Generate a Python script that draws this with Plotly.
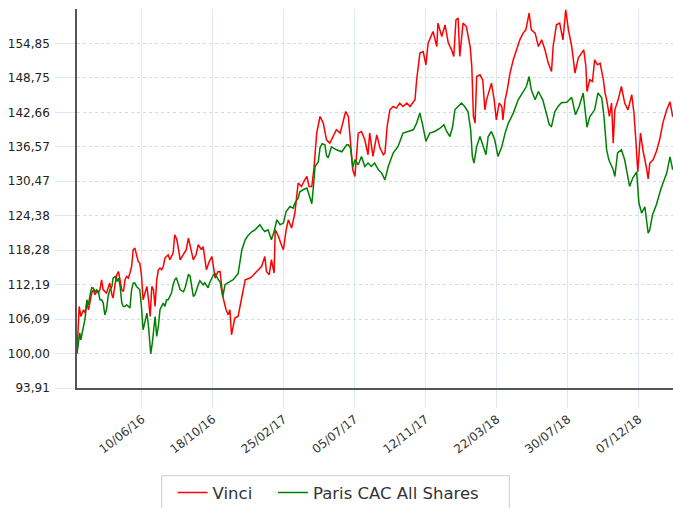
import pandas as pd
import plotly.graph_objects as go

START = "2016-02-12"

# Vinci (rebased to 100) - day offsets from START and values
vinci_days = [0, 4, 7, 12, 15, 18, 21, 24, 27, 30, 33, 36, 39, 42, 45, 48, 51, 54, 57, 60,
              64, 66, 70, 73, 76, 79, 82, 85, 88, 91, 94, 97, 100, 103, 106, 109, 112, 115, 118, 121,
              124, 128, 131, 134, 137, 140, 143, 146, 149, 152, 155, 158, 161, 164, 167, 170, 173, 176, 179, 183,
              189, 194, 200, 204, 209, 213, 218, 222, 228, 231, 237, 242, 247, 253, 258, 262, 267, 273, 277, 280,
              283, 289, 295, 302, 308, 317, 322, 329, 335, 338, 341, 344, 347, 350, 352, 356, 361, 363, 369, 373,
              378, 383, 387, 393, 399, 405, 411, 417, 421, 425, 430, 434, 439, 445, 451, 457, 463, 469, 475, 482,
              488, 492, 497, 501, 505, 509, 515, 521, 527, 533, 536, 542, 549, 555, 561, 564, 568, 573, 579, 585,
              591, 597, 604, 610, 616, 619, 622, 628, 634, 639, 643, 649, 652, 659, 661, 668, 674, 680, 686, 690,
              694, 698, 701, 707, 713, 720, 723, 726, 729, 732, 738, 743, 747, 750, 755, 759, 764, 768, 773, 778,
              780, 784, 788, 793, 799, 805, 811, 817, 822, 828, 832, 839, 845, 851, 857, 863, 869, 872, 878, 884,
              890, 895, 900, 906, 912, 918, 924, 928, 932, 934, 939, 944, 948, 953, 958, 964, 967, 970, 975, 979,
              982, 985, 991, 997, 1003, 1009, 1016, 1020, 1023, 1027, 1032, 1037, 1043, 1046, 1049, 1055, 1061, 1067, 1073, 1080,
              1086, 1091]
vinci_vals = [100.00, 108.33, 106.56, 107.75, 107.16, 108.93, 107.75, 109.51, 110.70, 111.28, 110.40, 110.98, 110.70, 111.28, 113.05, 111.28, 110.98, 110.70, 111.58, 112.47,
              110.40, 109.81, 112.47, 113.94, 114.52, 112.75, 111.28, 110.98, 113.05, 113.63, 113.35, 114.24, 115.40, 118.36, 118.66, 117.47, 116.29, 116.00, 113.94, 109.51,
              110.70, 111.87, 109.51, 106.56, 111.87, 111.28, 108.33, 113.05, 114.82, 115.12, 114.82, 115.40, 116.89, 117.17, 117.47, 116.59, 117.17, 117.77, 121.01, 120.12,
              116.59, 117.47, 118.36, 120.42, 118.36, 116.59, 117.47, 119.24, 118.36, 118.94, 114.82, 116.23, 117.17, 113.35, 114.47, 114.52, 110.10, 107.75, 106.86, 107.75,
              103.32, 106.28, 106.56, 110.10, 113.05, 113.35, 113.76, 114.52, 115.17, 115.40, 116.29, 117.17, 114.52, 114.24, 113.94, 116.59, 114.24, 121.89, 120.71, 119.54,
              118.36, 121.89, 123.66, 122.19, 124.85, 130.15, 129.55, 130.73, 131.32, 129.55, 129.55, 132.80, 138.99, 141.93, 140.76, 137.81, 137.22, 138.39, 139.58, 138.99,
              141.34, 142.81, 141.93, 137.81, 132.50, 131.32, 138.99, 139.28, 137.81, 135.16, 138.99, 134.86, 138.69, 136.34, 135.16, 135.46, 140.16, 143.11, 143.70, 143.41,
              144.30, 143.70, 144.30, 143.70, 144.58, 144.88, 148.42, 153.14, 153.42, 151.07, 154.91, 156.08, 156.96, 154.31, 158.44, 156.08, 158.14, 154.91, 153.72, 152.54,
              159.03, 159.33, 152.54, 158.44, 157.84, 154.31, 150.77, 141.93, 140.76, 149.00, 149.30, 148.42, 143.11, 144.88, 146.65, 147.83, 144.88, 141.34, 144.30, 143.70,
              141.34, 144.88, 146.65, 149.60, 151.96, 153.72, 155.49, 156.68, 157.26, 160.21, 157.26, 156.68, 154.31, 155.49, 153.72, 151.37, 149.89, 154.31, 158.14, 158.44,
              155.49, 160.80, 157.26, 154.31, 149.60, 152.26, 153.14, 153.72, 150.77, 146.35, 148.42, 148.12, 151.96, 151.07, 151.37, 148.42, 146.12, 144.88, 141.93, 144.30,
              137.22, 143.11, 144.88, 147.23, 144.30, 143.11, 145.77, 142.53, 138.39, 132.15, 138.99, 135.69, 132.80, 130.91, 133.69, 134.27, 135.74, 137.81, 140.81, 143.11,
              144.53, 141.88]

# Paris CAC All Shares (rebased to 100)
cac_days = [0, 2, 5, 7, 12, 15, 18, 21, 24, 27, 30, 33, 36, 39, 42, 45, 48, 51, 54, 57,
            60, 64, 66, 70, 73, 76, 79, 82, 85, 88, 91, 94, 97, 100, 103, 106, 109, 112, 115, 118,
            121, 124, 128, 131, 135, 138, 143, 146, 149, 152, 155, 158, 161, 164, 167, 170, 173, 176, 179, 182,
            189, 195, 198, 204, 207, 213, 216, 222, 225, 231, 234, 240, 243, 250, 253, 259, 262, 267, 271, 276,
            280, 286, 289, 295, 302, 308, 313, 320, 326, 332, 335, 341, 344, 350, 356, 361, 366, 372, 378, 383,
            390, 396, 399, 405, 408, 414, 421, 425, 430, 433, 436, 442, 445, 449, 454, 457, 460, 466, 475, 485,
            494, 497, 501, 505, 509, 515, 521, 527, 533, 539, 545, 552, 558, 564, 570, 579, 588, 597, 607, 616,
            622, 628, 633, 639, 646, 655, 665, 672, 677, 683, 688, 692, 698, 704, 710, 716, 721, 724, 727, 732,
            738, 744, 749, 753, 759, 765, 771, 778, 784, 790, 799, 808, 816, 823, 828, 832, 839, 845, 853, 859,
            865, 869, 875, 881, 887, 897, 906, 913, 920, 927, 934, 939, 948, 954, 961, 965, 970, 974, 982, 985,
            990, 997, 1003, 1012, 1018, 1025, 1029, 1034, 1040, 1046, 1049, 1054, 1061, 1070, 1080, 1086, 1091]
cac_vals = [100.00, 101.26, 103.68, 102.44, 104.79, 106.33, 109.51, 108.63, 110.40, 111.64, 111.58, 110.93, 111.28, 110.98, 109.51, 109.51, 108.98, 106.86, 107.75, 110.10,
            111.28, 111.87, 113.35, 113.63, 112.75, 113.35, 111.87, 108.93, 108.33, 108.33, 108.63, 108.33, 108.05, 111.28, 112.47, 112.47, 111.87, 111.58, 111.28, 108.33,
            104.21, 105.39, 107.16, 104.79, 99.96, 101.91, 106.56, 103.02, 104.79, 107.75, 108.33, 108.93, 108.33, 109.51, 109.51, 110.10, 110.70, 112.17, 113.05, 113.40,
            111.28, 110.93, 111.64, 113.94, 113.76, 110.10, 110.40, 112.17, 112.87, 112.17, 112.52, 111.64, 112.52, 113.94, 114.11, 113.05, 112.70, 110.04, 112.17, 112.52,
            112.70, 113.05, 113.40, 114.11, 118.36, 120.12, 120.83, 121.54, 121.89, 122.48, 122.78, 121.89, 121.59, 121.89, 120.12, 121.59, 123.66, 122.78, 123.08, 125.13,
            126.01, 125.73, 126.61, 127.50, 128.61, 128.97, 129.27, 128.08, 126.49, 129.55, 133.09, 133.92, 136.39, 137.10, 136.92, 134.98, 134.62, 136.57, 136.04, 135.69,
            136.92, 136.92, 136.34, 132.95, 134.27, 133.39, 134.86, 133.09, 133.69, 133.09, 133.69, 132.50, 131.92, 130.73, 133.09, 135.46, 136.62, 138.99, 139.28, 139.58,
            140.76, 142.53, 140.46, 137.51, 138.99, 139.28, 139.88, 140.46, 139.28, 138.39, 140.16, 143.11, 143.70, 144.30, 143.70, 142.81, 139.58, 134.86, 133.69, 136.62,
            138.39, 136.62, 135.16, 138.39, 139.28, 137.81, 134.86, 136.62, 138.99, 140.76, 142.53, 144.88, 146.07, 147.23, 149.00, 146.65, 144.88, 146.35, 144.88, 142.53,
            140.46, 140.16, 142.76, 143.70, 144.35, 144.44, 145.32, 142.23, 143.82, 146.07, 140.02, 141.88, 143.11, 146.07, 145.24, 141.93, 136.04, 134.27, 132.50, 131.32,
            135.51, 136.04, 134.27, 129.55, 131.09, 132.15, 126.67, 124.85, 125.96, 121.31, 121.89, 124.55, 126.31, 129.32, 131.92, 134.80, 132.50]

y_tick_vals = [93.91, 100.00, 106.09, 112.19, 118.28, 124.38, 130.47, 136.57, 142.66, 148.75, 154.85]
y_tick_text = ["93,91", "100,00", "106,09", "112,19", "118,28", "124,38", "130,47", "136,57", "142,66", "148,75", "154,85"]

series_names = ["Vinci", "Paris CAC All Shares"]

start = pd.Timestamp(START)
vinci_dates = start + pd.to_timedelta(vinci_days, unit="D")
cac_dates = start + pd.to_timedelta(cac_days, unit="D")

fig = go.Figure()
fig.add_trace(go.Scatter(x=vinci_dates, y=vinci_vals, mode="lines",
                         name=series_names[0] + "\u00a0\u00a0\u00a0",
                         line=dict(color="#ff0000", width=1.5)))
fig.add_trace(go.Scatter(x=cac_dates, y=cac_vals, mode="lines", name=series_names[1],
                         line=dict(color="#008000", width=1.5)))

grid_col = "#dce8f6"
fig.update_layout(
    width=673, height=508,
    margin=dict(l=77, r=0, t=9, b=120, autoexpand=False),
    paper_bgcolor="white", plot_bgcolor="white",
    font=dict(family="DejaVu Sans", color="#222"),
    showlegend=True,
    legend=dict(orientation="h", x=0.1604, xanchor="left", y=-0.2300, yanchor="top",
                borderwidth=0, bgcolor="rgba(0,0,0,0)",
                font=dict(size=16.5, color="#333", family="DejaVu Sans")),
    shapes=[dict(type="rect", xref="paper", yref="paper",
                 x0=0.1421, x1=0.7253, y0=-0.2314, y1=-0.40,
                 line=dict(color="#cccccc", width=1), fillcolor="rgba(0,0,0,0)", layer="below")],
    xaxis=dict(type="date", range=["2016-02-12", "2019-02-07 12:00"],
               tick0="2016-06-10", dtick=130 * 86400000, tickformat="%d/%m/%y",
               tickangle=-38, tickfont=dict(size=12, color="#333"),
               showgrid=True, gridcolor=grid_col, gridwidth=1,
               ticks="outside", ticklen=18, tickcolor=grid_col, tickwidth=1,
               showline=True, linecolor="#555", linewidth=1.5, zeroline=False),
    yaxis=dict(range=[93.91, 160.94], tickvals=y_tick_vals, ticktext=y_tick_text,
               tickfont=dict(size=12, color="#222"), ticklabelstandoff=3,
               showgrid=True, gridcolor="#c9dcf2", gridwidth=1, griddash="dot",
               ticks="outside", ticklen=20, tickcolor=grid_col, tickwidth=1,
               showline=True, linecolor="#555", linewidth=1.5, zeroline=False),
)

# the page fills the 673x508 window exactly (no default 8px body margin)
fig.write_html("out.html", config={"displayModeBar": False},
               post_script="document.body.style.margin='0';")
